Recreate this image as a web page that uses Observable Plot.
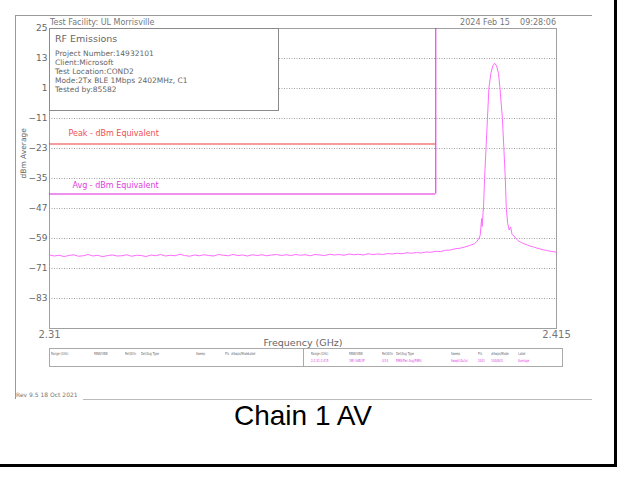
<!DOCTYPE html>
<html>
<head>
<meta charset="utf-8">
<script src="https://cdn.jsdelivr.net/npm/d3@7"></script>
<script src="https://cdn.jsdelivr.net/npm/@observablehq/plot@0.6"></script>
<style>
html, body { margin: 0; padding: 0; background: #fff; }
#wrap { position: relative; width: 621px; height: 477px; overflow: hidden; font-family: "DejaVu Sans", sans-serif; }
#chart { position: absolute; left: 0; top: 0; }
.ab { position: absolute; white-space: nowrap; }
.ln { position: absolute; }
.hdr { font-size: 8px; color: #777; line-height: 8px; }
#info { left: 49px; top: 28px; width: 228px; height: 81px; border: 1px solid #8a8a8a; background: #fff; box-sizing: content-box; }
#info .t1 { position: absolute; left: 5px; top: 5px; font-size: 9.5px; color: #666; line-height: 10px; }
#info .t2 { position: absolute; left: 5px; top: 20px; font-size: 7.5px; color: #666; line-height: 9px; white-space: pre; }
#legend { left: 49px; top: 348px; width: 512px; height: 17px; border: 1px solid #aaa; background: #fff; }
.lh, .lv { position: absolute; font-size: 4px; line-height: 5px; white-space: nowrap; transform: scaleX(0.68); transform-origin: 0 0; }
.lh { top: 2px; color: #666; }
.lv { top: 9px; color: #e040e0; }
#caption { left: 0; top: 402px; width: 606px; text-align: center; font-family: "Liberation Sans", Arial, sans-serif; font-size: 28px; line-height: 28px; color: #000; }
</style>
</head>
<body>
<div id="wrap">
  <div id="chart"></div>
</div>
<script>
// ---------- data ----------
const freqGHz = [
  2.310, 2.311, 2.312, 2.313, 2.314, 2.315, 2.316, 2.317, 2.318, 2.319,
  2.320, 2.321, 2.322, 2.323, 2.324, 2.325, 2.326, 2.327, 2.328, 2.329,
  2.330, 2.331, 2.332, 2.333, 2.334, 2.335, 2.336, 2.337, 2.338, 2.339,
  2.340, 2.341, 2.342, 2.343, 2.344, 2.345, 2.346, 2.347, 2.348, 2.349,
  2.350, 2.351, 2.352, 2.353, 2.354, 2.355, 2.356, 2.357, 2.358, 2.359,
  2.360, 2.361, 2.362, 2.363, 2.364, 2.365, 2.366, 2.367, 2.368, 2.369,
  2.370, 2.371, 2.372, 2.373, 2.374, 2.375, 2.376, 2.377, 2.378, 2.379,
  2.380, 2.381, 2.382, 2.383, 2.384, 2.385, 2.386, 2.387, 2.388, 2.389,
  2.390, 2.391, 2.392, 2.393, 2.394, 2.395, 2.396, 2.397, 2.398, 2.3985,
  2.399, 2.3992, 2.3995, 2.3996, 2.3998, 2.3999, 2.4001, 2.4004, 2.4007, 2.4010,
  2.4014, 2.4018, 2.4022, 2.4026, 2.4030, 2.4033, 2.4038, 2.4041, 2.4044, 2.4046,
  2.4049, 2.4052, 2.4055, 2.4058, 2.4062, 2.4066, 2.4070, 2.4075, 2.4080, 2.4085,
  2.4090, 2.4095, 2.4100, 2.4105, 2.4110, 2.4115, 2.4120, 2.4125, 2.4130, 2.4135,
  2.4140, 2.4145, 2.4150
];
const levelDbm = [
  -65.6, -66.0, -65.7, -66.2, -65.8, -65.5, -66.1, -65.9, -65.4, -66.0,
  -65.7, -66.3, -65.8, -65.6, -66.0, -65.9, -65.5, -66.1, -65.7, -65.8,
  -66.2, -65.6, -65.9, -65.4, -66.0, -65.7, -65.9, -65.3, -65.8, -66.1,
  -65.6, -65.9, -65.5, -65.8, -66.0, -65.4, -65.7, -65.9, -65.4, -65.8,
  -65.6, -66.0, -65.5, -65.8, -65.5, -65.9, -65.6, -65.4, -65.8, -65.5,
  -65.8, -65.4, -65.7, -65.5, -65.9, -65.4, -65.6, -65.8, -65.3, -65.6,
  -65.4, -65.7, -65.2, -65.5, -65.3, -65.6, -65.1, -65.4, -65.2, -65.4,
  -65.0, -65.2, -64.9, -65.1, -64.7, -64.9, -64.6, -64.8, -64.4, -64.5,
  -64.1, -64.2, -63.7, -63.6, -63.1, -62.9, -62.4, -61.8, -61.1, -60.2,
  -58.8, -57.6, -51.0, -54.2, -48.5, -46.0, -35.0, -23.0, -11.0, 1.0,
  7.0, 10.0, 11.1, 10.0, 7.0, 1.0, -11.0, -23.0, -35.0, -47.0,
  -53.0, -55.6, -54.4, -57.4, -58.0, -59.0, -59.8, -60.4, -60.9, -61.3,
  -61.6, -62.0, -62.3, -62.5, -62.9, -63.1, -63.4, -63.6, -63.8, -64.0,
  -64.2, -64.3, -64.5
];
const yTicks = [25, 13, 1, -11, -23, -35, -47, -59, -71, -83];
const gridLevels = [13, 1, -11, -23, -35, -47, -59, -71, -83];
const xTicks = [2.31, 2.415];
const xDomain = [2.31, 2.415];
const yDomain = [-95, 25];
const limitNames = ["Peak - dBm Equivalent", "Avg - dBm Equivalent"];
const limitLevels = [-21.2, -41.2];
const bandEdgeGHz = 2.39;
const infoTitle = "RF Emissions";
const infoLines = ["Project Number:14932101", "Client:Microsoft", "Test Location:COND2", "Mode:2Tx BLE 1Mbps 2402MHz, C1", "Tested by:85582"];
const headerLeft = "Test Facility:  UL Morrisville";
const headerRight = "2024 Feb 15    09:28:06";
const legendHeaders = ["Range (GHz)", "RBW/VBW", "Ref/Attn", "Det/Avg Type", "Sweep", "Pts", "#Swps/Mode", "Label"];
const legendValues = ["2:2.31-2.415", "1M/-3dB/3P", "4/14", "RMS/Pwr Avg(RMS)", "Swept(Auto)", "2001", "100/AVG", "Average"];
const footerText = "Rev 9.5 18 Oct 2021";
const captionText = "Chain 1 AV";

// ---------- build ----------
const trace = freqGHz.map((f, i) => ({f, v: levelDbm[i]}));
const peakLimit = [{x1: xDomain[0], x2: bandEdgeGHz, v: limitLevels[0], name: limitNames[0]}];
const avgLimit = [{x1: xDomain[0], x2: bandEdgeGHz, v: limitLevels[1], name: limitNames[1]}];
const bandEdge = [{x: bandEdgeGHz, y1: limitLevels[1], y2: yDomain[1]}];

const chart = Plot.plot({
  width: 621,
  height: 400,
  marginLeft: 49,
  marginRight: 65,
  marginTop: 28,
  marginBottom: 72,
  x: {domain: xDomain},
  y: {domain: yDomain},
  style: {fontFamily: "DejaVu Sans, sans-serif", background: "transparent"},
  marks: [
    Plot.ruleY(gridLevels, {stroke: "#8a8a8a", strokeDasharray: "1,1.5", strokeWidth: 0.8}),
    Plot.frame({stroke: "#a0a0a0"}),
    Plot.axisY(yTicks, {tickSize: 0, tickPadding: 2, fontSize: 9, fill: "#666", label: null}),
    Plot.axisX(xTicks, {tickSize: 0, tickPadding: 2, fontSize: 10, fill: "#777", tickFormat: d => String(d), label: null}),
    Plot.text(["Frequency (GHz)"], {frameAnchor: "bottom", dy: 17, fontSize: 9.5, fill: "#666"}),
    Plot.text(["dBm Average"], {frameAnchor: "left", dx: -26, rotate: -90, fontSize: 7.5, fill: "#666"}),
    Plot.ruleY(peakLimit, {y: "v", x1: "x1", x2: "x2", stroke: "#ee3b3b", strokeWidth: 1.2}),
    Plot.ruleY(avgLimit, {y: "v", x1: "x1", x2: "x2", stroke: "#dd22dd", strokeWidth: 1.2}),
    Plot.ruleX(bandEdge, {x: "x", y1: "y1", y2: "y2", stroke: "#dd22dd", strokeWidth: 1}),
    Plot.text(peakLimit, {x: "x1", y: "v", text: "name", dx: 19, dy: -11, textAnchor: "start", fontSize: 8, fill: "#f05050"}),
    Plot.text(avgLimit, {x: "x1", y: "v", text: "name", dx: 23, dy: -9, textAnchor: "start", fontSize: 8, fill: "#e040e0"}),
    Plot.line(trace, {x: "f", y: "v", stroke: "#ff6cff", strokeWidth: 1})
  ]
});
document.getElementById("chart").appendChild(chart);

// ---------- overlays (frame, header, info box, legend table, caption) ----------
const wrap = document.getElementById("wrap");
function add(tag, cls, id, style, text) {
  const el = document.createElement(tag);
  if (cls) el.className = cls;
  if (id) el.id = id;
  if (style) el.setAttribute("style", style);
  if (text != null) el.textContent = text;
  wrap.appendChild(el);
  return el;
}
// outer black frame (right & bottom)
add("div", "ln", null, "left:614px;top:0;width:3px;height:467px;background:#000;");
add("div", "ln", null, "left:0;top:464px;width:617px;height:3px;background:#000;");
// gray page frame
add("div", "ln", null, "left:15px;top:15px;width:577px;height:1px;background:#9a9a9a;");
add("div", "ln", null, "left:15px;top:15px;width:1px;height:384px;background:#9a9a9a;");
add("div", "ln", null, "left:83px;top:399px;width:509px;height:1px;background:#bbb;");
// header texts
add("div", "ab hdr", null, "left:50px;top:19px;", headerLeft);
add("div", "ab hdr", null, "right:65px;top:19px;", headerRight).style.whiteSpace = "pre";
// info box
const info = add("div", "ab", "info", null, null);
const t1 = document.createElement("div"); t1.className = "t1"; t1.textContent = infoTitle; info.appendChild(t1);
const t2 = document.createElement("div"); t2.className = "t2"; t2.textContent = infoLines.join("\n"); info.appendChild(t2);
// legend table
const legend = add("div", "ab", "legend", null, null);
const colLeft = [1, 44, 75, 91, 146, 175, 181, 198];
const colRight = [261, 299, 332, 346, 401, 428, 441, 468];
legendHeaders.forEach((h, i) => {
  const a = document.createElement("div"); a.className = "lh"; a.style.left = colLeft[i] + "px"; a.textContent = h; legend.appendChild(a);
  const b = document.createElement("div"); b.className = "lh"; b.style.left = colRight[i] + "px"; b.textContent = h; legend.appendChild(b);
  const c = document.createElement("div"); c.className = "lv"; c.style.left = colRight[i] + "px"; c.textContent = legendValues[i]; legend.appendChild(c);
});
const div = document.createElement("div");
div.setAttribute("style", "position:absolute;left:253px;top:0;width:1px;height:17px;background:#aaa;");
legend.appendChild(div);
// footer
add("div", "ab", null, "left:16px;top:392px;font-size:6px;color:#777;line-height:6px;", footerText);
// caption
add("div", "ab", "caption", null, captionText);
</script>
</body>
</html>
